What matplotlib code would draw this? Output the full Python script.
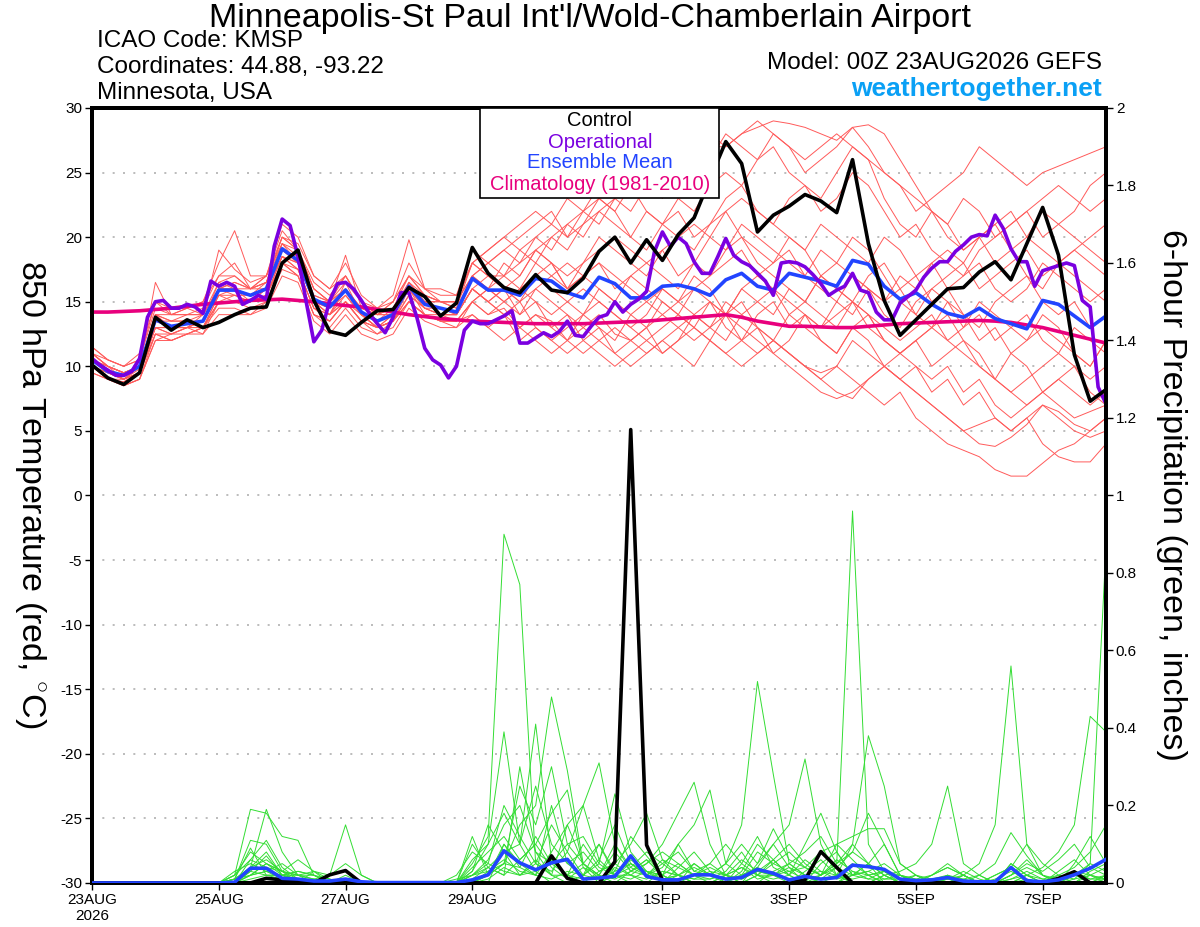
import numpy as np
import pandas as pd
import matplotlib
matplotlib.use("Agg")
import matplotlib.pyplot as plt
from matplotlib.ticker import FuncFormatter
from matplotlib.patches import Rectangle

plt.rcParams['font.family'] = ['Liberation Sans', 'DejaVu Sans']
plt.rcParams['axes.unicode_minus'] = False
plt.rcParams['mathtext.fontset'] = 'custom'
plt.rcParams['mathtext.rm'] = 'Liberation Sans'

# 6-hourly GEFS steps and 3-hourly operational steps
times6 = pd.date_range('2026-08-23 00:00', periods=65, freq='6h')
times3 = pd.date_range('2026-08-23 00:00', periods=129, freq='3h')

tick_dates = ['2026-08-23', '2026-08-25', '2026-08-27', '2026-08-29',
              '2026-09-01', '2026-09-03', '2026-09-05', '2026-09-07']
tick_labels = ['23AUG\n2026', '25AUG', '27AUG', '29AUG', '1SEP', '3SEP', '5SEP', '7SEP']

# 850 hPa temperature (C)
control_t = [10.1, 9.1, 8.6, 9.5, 13.8, 12.8, 13.6, 13.0, 13.4, 14.0, 14.5, 14.6, 18.0,
             19.0, 15.1, 12.7, 12.4, 13.4, 14.3, 14.4, 16.1, 15.4, 13.9, 14.9, 19.2, 17.2,
             16.1, 15.7, 17.1, 15.9, 15.7, 16.8, 18.9, 20.0, 18.0, 19.8, 18.2, 20.2, 21.5,
             24.5, 27.4, 25.7, 20.4, 21.7, 22.4, 23.3, 22.8, 21.9, 26.0, 19.5, 15.1, 12.4,
             13.6, 14.8, 16.0, 16.1, 17.3, 18.1, 16.7, 19.5, 22.3, 18.6, 10.9, 7.3, 8.2]

mean_t = [10.5, 9.6, 9.3, 10.0, 13.6, 13.1, 13.3, 13.5, 15.9, 15.9, 15.5, 16.0, 19.1,
          18.2, 15.2, 14.6, 15.9, 14.2, 13.5, 14.0, 16.2, 14.8, 14.5, 14.2, 16.8, 15.9,
          15.9, 15.5, 16.8, 16.6, 15.7, 15.3, 16.9, 16.4, 15.3, 15.3, 16.2, 16.3, 16.0,
          15.5, 16.7, 17.2, 16.2, 15.9, 17.2, 16.9, 16.6, 16.2, 18.2, 17.9, 16.2, 15.2,
          15.7, 14.8, 14.1, 13.8, 14.5, 13.7, 13.3, 12.9, 15.1, 14.8, 13.9, 13.0, 13.9]

clim_t = [14.2, 14.2, 14.25, 14.3, 14.4, 14.5, 14.65, 14.8, 14.9, 15.0, 15.1, 15.15, 15.2,
          15.1, 15.0, 14.85, 14.7, 14.6, 14.4, 14.2, 14.0, 13.85, 13.7, 13.6, 13.5, 13.45,
          13.4, 13.35, 13.3, 13.3, 13.3, 13.3, 13.35, 13.4, 13.45, 13.5, 13.6, 13.7, 13.8,
          13.9, 14.0, 13.8, 13.5, 13.3, 13.1, 13.1, 13.05, 13.0, 13.0, 13.1, 13.2, 13.3,
          13.35, 13.4, 13.45, 13.5, 13.55, 13.5, 13.4, 13.2, 13.0, 12.7, 12.4, 12.1, 11.8]

oper_t = [10.6, 10.1, 9.7, 9.3, 9.3, 9.6, 10.6, 13.8, 15.0, 15.1,
          14.5, 14.5, 14.8, 14.6, 14.1, 16.6, 16.2, 16.5, 16.2, 14.8,
          15.1, 15.5, 15.2, 19.3, 21.4, 20.9, 18.5, 15.1, 11.9, 12.8,
          15.1, 16.4, 16.5, 16.0, 15.1, 14.1, 13.3, 12.6, 13.8, 15.7,
          15.7, 13.8, 11.4, 10.5, 10.1, 9.1, 10.0, 12.8, 13.5, 13.3,
          13.3, 13.6, 13.9, 14.3, 11.8, 11.8, 12.2, 12.6, 12.3, 12.7,
          13.5, 12.4, 12.3, 13.1, 13.8, 14.0, 15.0, 14.2, 14.8, 15.2,
          15.8, 18.9, 20.4, 19.3, 20.0, 19.5, 18.1, 17.2, 17.2, 18.5,
          19.9, 18.6, 18.1, 17.8, 17.2, 16.6, 15.5, 18.0, 18.1, 18.0,
          17.7, 17.1, 16.4, 15.5, 15.9, 16.2, 17.2, 15.9, 15.7, 14.2,
          13.6, 13.6, 14.9, 15.4, 15.9, 16.9, 17.6, 18.1, 18.1, 18.9,
          19.4, 20.0, 20.2, 20.1, 21.7, 20.7, 19.1, 18.1, 18.1, 16.2,
          17.4, 17.6, 17.8, 18.0, 17.8, 15.1, 14.6, 8.4, 7.1]

members_t = [
    [11, 10, 9.5, 10, 14, 14, 14.5, 15, 17, 17, 16, 17, 20, 19.5, 17, 16, 17, 15, 14, 15, 17, 16, 16, 15.5,
     18, 17, 17, 18, 19, 20, 19, 21, 22, 23, 22, 24, 25, 24, 26, 27, 27, 28, 28.5, 29, 28.8, 28.5, 28, 27.5,
     28.5, 28.7, 28, 26, 24, 22, 20, 19, 20, 21, 22, 20, 19, 18, 19, 20, 21],
    [10, 9, 8.8, 9.5, 13, 12.5, 13, 13.5, 16, 16.5, 16, 17, 19.5, 19, 16, 15, 16.5, 15, 14, 14.5, 17, 15.5, 15, 15,
     17, 18, 19, 18, 20, 21, 20, 22, 23, 22, 24, 25, 23, 26, 27, 26, 28, 27, 26, 28, 27, 25, 26, 27,
     28.5, 27, 25, 24, 22, 23, 24, 25, 27, 26, 25, 24, 25, 25.5, 26, 26.5, 27],
    [10, 9, 8.5, 9, 12.5, 12, 12.5, 13, 15, 15, 14.5, 15, 18, 17, 14, 13.5, 15, 13.5, 13, 13.5, 15, 14, 13.5, 13,
     15, 14, 14.5, 13, 14, 13.5, 12, 13, 14, 12.5, 12, 13, 14, 13, 12, 13, 14, 12, 11, 12, 11, 10, 9, 10,
     9, 8, 7, 8, 6, 5, 4, 3.5, 3, 2, 1.5, 1.5, 2.5, 3.5, 4, 5, 6],
    [11, 10, 9.5, 10, 14, 13, 13, 14, 16, 16, 15, 16, 19, 18, 15, 14, 15, 14, 13, 14, 16, 14, 14, 14,
     16, 15, 16, 15, 17, 16, 15, 14, 16, 15, 14, 13, 15, 14, 13, 12, 14, 15, 13, 12, 14, 13, 12, 11,
     13, 12, 10, 9, 10, 8, 9, 7, 8, 6, 5, 6, 4, 3, 2.6, 2.6, 4],
    [10.5, 9.5, 9, 9.8, 13, 13, 13.5, 13, 15, 15.5, 15, 15.5, 18.5, 18, 15, 14, 16, 14, 13, 14, 16, 15, 14, 14,
     16, 15, 14, 13, 12, 11, 12, 11, 12, 13, 12, 11, 12, 13, 14, 13, 15, 14, 13, 12, 11, 10, 9.5, 10,
     12, 11, 10, 9, 8, 7, 6, 5, 5.5, 6, 5, 6, 7, 6.5, 5.5, 5, 6],
    [11.5, 10.5, 10, 10.5, 15, 14, 14, 14, 19, 17.5, 16.5, 17, 20.5, 19, 16, 15, 17, 15, 14, 15, 18, 16, 15, 15,
     18, 17, 16, 17, 19, 18, 17, 18, 20, 19, 18, 17, 19, 20, 21, 20, 22, 23, 22, 21, 23, 24, 22, 23,
     25, 24, 22, 20, 21, 19, 18, 17, 18, 16, 15, 16, 18, 17, 16, 15, 16],
    [9.5, 9, 8.5, 9, 12, 12.5, 12.5, 13, 14.5, 14.5, 14, 15, 17.5, 17, 14, 13, 14.5, 13, 12.5, 13, 15, 14, 13.5, 13.5,
     15, 16, 15, 16, 15, 14, 15, 16, 15, 14, 13, 14, 16, 15, 14, 15, 13, 12, 14, 15, 13, 14, 12, 11,
     13, 14, 12, 11, 12, 10, 11, 12, 10, 9, 11, 10, 8, 9, 10, 8, 7],
    [10, 9.5, 9, 10, 13.5, 13, 13, 13.5, 16.5, 16, 15.5, 16, 19, 18.5, 15.5, 15, 16, 14.5, 14, 14, 16.5, 15, 15, 14.5,
     17, 18, 17, 19, 20, 19, 21, 20, 22, 21, 20, 22, 21, 20, 19, 21, 22, 20, 19, 18, 20, 19, 17, 18,
     17, 16, 15, 16, 14, 13, 15, 14, 12, 13, 11, 12, 13, 12, 11, 10, 12],
    [10.5, 10, 9.5, 10, 14, 13.5, 14, 14.5, 17, 18, 16, 16.5, 19.5, 18, 15, 14.5, 16, 14, 13.5, 14.5, 16, 15, 14.5, 14,
     16, 15, 16, 14, 15, 13, 14, 12, 13, 11, 12, 13, 11, 12, 14, 13, 12, 14, 15, 16, 14, 15, 17, 16,
     15, 17, 18, 16, 17, 15, 16, 14, 13, 15, 16, 17, 15, 14, 15, 13, 14],
    [11, 10, 9, 9.5, 13.5, 13.5, 13.5, 13.5, 16, 15.5, 15.5, 16.5, 19, 18, 15, 14, 16.5, 14, 13, 13.5, 16, 14.5, 14, 14,
     17, 16, 15, 16, 17, 18, 16, 17, 18, 17, 16, 15, 14, 15, 16, 17, 18, 19, 17, 16, 15, 14, 13, 14,
     15, 13, 12, 11, 12, 13, 14, 12, 11, 9, 8, 7, 8, 9, 8, 7, 8],
    [10, 9, 9, 9.5, 12.5, 12.5, 13, 12.5, 15, 15, 15, 15.5, 18, 17.5, 14.5, 14, 15, 13.5, 13, 13.5, 15.5, 14.5, 14, 13.5,
     15, 14, 15, 14, 16, 15, 14, 13, 12, 11, 10, 11, 12, 11, 10, 12, 11, 12, 13, 11, 12, 14, 13, 15,
     14, 16, 15, 17, 16, 18, 19, 18, 20, 21, 19, 20, 22, 21, 20, 19, 18],
    [10.5, 9.5, 9, 10, 16.5, 14, 14, 14, 16, 16, 16, 16.5, 20, 19, 16.5, 15.5, 17, 15, 14.5, 15, 17, 15.5, 15, 15,
     18, 19, 20, 19, 18, 20, 21, 22, 21, 23, 24, 22, 21, 23, 22, 24, 25, 24, 26, 27, 25, 24, 23, 25,
     27, 26, 23, 21, 20, 22, 21, 19, 20, 18, 19, 17, 16, 18, 17, 16, 15],
    [9.5, 9, 8.8, 9.5, 12.5, 12, 12.5, 12.5, 14, 14, 14, 14.5, 17, 16.5, 13.5, 12.5, 14, 12.5, 12, 12.5, 14.5, 13.5, 13, 13,
     14, 13, 12, 13, 14, 13, 12, 14, 15, 14, 13, 12, 11, 12, 13, 12, 11, 10, 11, 12, 11, 10, 9, 8,
     7.5, 9, 10, 11, 12, 13, 12, 11, 10, 9, 8, 9, 10, 11, 10, 9, 10],
    [11, 10.5, 10, 10.5, 14.5, 14, 14.5, 14, 16.5, 17, 16, 16.5, 20, 19, 16, 15, 18.6, 14.5, 14, 14.5, 16.5, 15.5, 15, 15,
     17, 16, 18, 17, 19, 18, 16, 17, 18, 16, 17, 18, 19, 17, 18, 20, 19, 21, 20, 19, 18, 17, 19, 18,
     20, 19, 17, 15, 14, 16, 15, 13, 14, 12, 13, 14, 12, 11, 13, 12, 11],
    [10, 9.5, 9, 9.5, 13, 12.5, 13, 13, 15.5, 15.5, 15, 16, 18.5, 17.5, 14.5, 14, 15.5, 14, 13, 13.5, 15.5, 14.5, 14.5, 14,
     16, 17, 16, 15, 16, 17, 18, 17, 16, 15, 17, 16, 15, 14, 16, 15, 14, 16, 17, 18, 19, 17, 16, 15,
     17, 16, 14, 13, 15, 16, 17, 18, 16, 17, 18, 19, 17, 18, 19, 18, 17],
    [10.5, 10, 9.5, 10, 14, 13.5, 13.5, 14, 16, 16.5, 16, 16, 19.5, 18.5, 15.5, 15, 16, 14.5, 14, 14, 16.5, 15, 15, 14.5,
     18, 19, 20, 21, 22, 21, 23, 22, 24, 25, 26, 25, 27, 26, 27, 28, 27, 28, 29, 28, 27, 26, 27, 28,
     27, 26, 25, 24, 23, 22, 21, 23, 22, 20, 21, 22, 23, 24, 23, 22, 23],
    [11, 10, 9.5, 10, 13, 13, 13, 13.5, 15.5, 16, 15.5, 16, 18.5, 18, 15, 14.5, 15.5, 14, 13.5, 14, 16, 14.5, 14, 14,
     16, 15, 14, 15, 13, 12, 13, 14, 13, 12, 14, 15, 16, 15, 17, 16, 14, 13, 12, 11, 10, 9, 8, 7.5,
     8, 9, 10, 9, 8, 7, 6, 5, 4, 3.8, 4.5, 5.5, 7, 6, 5, 4.5, 5],
    [10, 9, 8.5, 9, 12, 12, 12.5, 13, 15, 15, 15, 15.5, 18.5, 17.5, 14.5, 13.5, 15, 13.5, 12.5, 13.5, 15, 14, 13.5, 13.5,
     15, 16, 17, 16, 18, 17, 16, 18, 19, 20, 19, 18, 17, 16, 18, 17, 19, 20, 18, 17, 16, 15, 17, 16,
     15, 14, 13, 12, 13, 14, 12, 13, 15, 14, 13, 12, 14, 13, 11, 10, 12],
    [11.5, 10.5, 10, 11, 15, 14.5, 14.5, 15, 18, 20.5, 17, 17, 21, 20, 17, 16, 18, 15.5, 14.5, 15.5, 19.8, 16, 15.5, 15.5,
     19, 18, 19, 20, 21, 22, 20, 21, 23, 22, 20, 19, 21, 22, 20, 21, 23, 24, 22, 21, 20, 19, 21, 20,
     19, 18, 20, 19, 17, 18, 16, 17, 19, 20, 21, 22, 20, 21, 22, 24, 25],
    [10, 9.5, 9, 9.5, 13, 13, 13, 13, 15.5, 15, 15, 15.5, 18, 17, 14, 13.5, 15, 13.5, 13, 13.5, 15, 14, 13.5, 13.5,
     14, 13, 14, 12, 13, 12, 11, 12, 11, 10, 11, 12, 13, 14, 13, 15, 14, 16, 15, 14, 16, 15, 14, 13,
     15, 14, 12, 11, 10, 9, 10, 8, 9, 7, 6, 7, 8, 7, 6, 6.5, 7],
]

# 6-hour precipitation (inches)
control_p = [0, 0, 0, 0, 0, 0, 0, 0, 0, 0, 0, 0.012, 0.008,
             0.003, 0, 0.021, 0.032, 0, 0, 0, 0, 0, 0, 0, 0, 0,
             0, 0, 0, 0.070, 0.012, 0, 0, 0.055, 1.17, 0.098, 0.008, 0, 0,
             0, 0, 0, 0, 0, 0, 0.008, 0.081, 0.040, 0, 0, 0, 0,
             0, 0, 0, 0, 0, 0, 0, 0, 0, 0.012, 0.029, 0, 0]

mean_p = [0, 0, 0, 0, 0, 0, 0, 0, 0, 0.002, 0.038, 0.038, 0.012,
          0.010, 0.005, 0.005, 0.010, 0.003, 0.001, 0.001, 0.001, 0.001, 0.001, 0.001, 0.008, 0.021,
          0.083, 0.052, 0.034, 0.052, 0.061, 0.010, 0.013, 0.017, 0.070, 0.017, 0.008, 0.008, 0.021,
          0.021, 0.010, 0.014, 0.035, 0.025, 0.008, 0.017, 0.010, 0.014, 0.046, 0.042, 0.035, 0.010,
          0.006, 0.008, 0.014, 0.005, 0.003, 0.003, 0.040, 0.006, 0.003, 0.008, 0.021, 0.038, 0.061]

members_p = [
    [0, 0, 0, 0, 0, 0, 0, 0, 0, 0.02, 0.19, 0.18, 0.12,
     0.11, 0.02, 0, 0, 0, 0, 0, 0, 0, 0, 0, 0.05, 0.12,
     0.9, 0.77, 0.05, 0.02, 0, 0, 0.03, 0.05, 0.02, 0, 0, 0.04, 0.08,
     0.03, 0, 0, 0.05, 0.1, 0.04, 0, 0, 0.02, 0.1, 0.05, 0, 0,
     0, 0, 0.02, 0, 0, 0, 0.05, 0.02, 0, 0, 0, 0.03, 0.05],
    [0, 0, 0, 0, 0, 0, 0, 0, 0, 0, 0.04, 0.19, 0.08,
     0.02, 0, 0, 0, 0, 0, 0, 0, 0, 0, 0, 0.03, 0.1,
     0.39, 0.1, 0.03, 0, 0, 0.02, 0.05, 0.02, 0, 0, 0.03, 0.02, 0,
     0, 0, 0.02, 0.08, 0.05, 0.03, 0.04, 0.02, 0.05, 0.96, 0.1, 0.03, 0,
     0.02, 0, 0, 0, 0, 0.02, 0.04, 0, 0, 0, 0, 0, 0.02],
    [0, 0, 0, 0, 0, 0, 0, 0, 0, 0.01, 0.11, 0.1, 0.03,
     0, 0, 0, 0, 0, 0, 0, 0, 0, 0, 0, 0.02, 0.04,
     0.08, 0.1, 0.41, 0.06, 0.02, 0, 0, 0.02, 0.05, 0.03, 0, 0.02, 0.05,
     0.02, 0.05, 0.15, 0.52, 0.28, 0.05, 0.02, 0, 0, 0.03, 0.02, 0, 0,
     0, 0.01, 0, 0, 0, 0, 0.02, 0.04, 0.02, 0, 0, 0, 0],
    [0, 0, 0, 0, 0, 0, 0, 0, 0, 0, 0.02, 0.05, 0.03,
     0.02, 0.03, 0.02, 0.15, 0.02, 0, 0, 0, 0, 0, 0, 0, 0.03,
     0.05, 0.15, 0.2, 0.48, 0.29, 0.05, 0.02, 0, 0.03, 0.06, 0.02, 0, 0,
     0, 0.02, 0.04, 0.02, 0, 0, 0.03, 0.06, 0.02, 0, 0, 0.02, 0,
     0, 0, 0, 0.02, 0.05, 0.15, 0.56, 0.1, 0.02, 0, 0, 0, 0.02],
    [0, 0, 0, 0, 0, 0, 0, 0, 0, 0.02, 0.08, 0.05, 0.02,
     0, 0.03, 0, 0, 0, 0, 0, 0, 0, 0, 0, 0.04, 0.08,
     0.12, 0.06, 0.1, 0.18, 0.24, 0.04, 0, 0.02, 0.04, 0.08, 0.05, 0.02, 0,
     0, 0, 0, 0.02, 0.05, 0.08, 0.04, 0.02, 0.05, 0.1, 0.38, 0.25, 0.05,
     0.02, 0, 0.01, 0, 0, 0, 0, 0.02, 0.04, 0.08, 0.15, 0.43, 0.39],
    [0, 0, 0, 0, 0, 0, 0, 0, 0, 0, 0.06, 0.11, 0.04,
     0.01, 0, 0, 0, 0, 0, 0, 0, 0, 0, 0, 0, 0.02,
     0.1, 0.04, 0.02, 0.08, 0.15, 0.2, 0.31, 0.1, 0.03, 0.05, 0.1, 0.18, 0.26,
     0.1, 0.02, 0, 0, 0.03, 0.05, 0.02, 0, 0, 0.02, 0.05, 0.1, 0.02,
     0, 0, 0, 0, 0, 0, 0, 0, 0, 0, 0.02, 0.05, 0.87],
    [0, 0, 0, 0, 0, 0, 0, 0, 0, 0, 0.03, 0.07, 0.02,
     0.03, 0.02, 0, 0.02, 0, 0, 0, 0, 0, 0, 0, 0.02, 0.06,
     0.15, 0.2, 0.08, 0.05, 0.1, 0.12, 0.05, 0.23, 0.08, 0.03, 0.02, 0.1, 0.15,
     0.24, 0.05, 0.02, 0.04, 0.1, 0.15, 0.32, 0.1, 0.02, 0, 0, 0.02, 0,
     0, 0, 0, 0, 0, 0, 0, 0, 0, 0, 0, 0, 0],
    [0, 0, 0, 0, 0, 0, 0, 0, 0, 0.01, 0.09, 0.02, 0.01,
     0, 0, 0, 0, 0, 0, 0, 0, 0, 0, 0, 0.06, 0.1,
     0.18, 0.1, 0.25, 0.1, 0.05, 0.08, 0.03, 0.05, 0.1, 0.18, 0.06, 0.02, 0,
     0, 0.02, 0.06, 0.03, 0.02, 0, 0, 0.02, 0.04, 0.08, 0.05, 0.02, 0.03,
     0.05, 0.1, 0.25, 0.05, 0.02, 0, 0.02, 0.05, 0.03, 0.06, 0.1, 0.04, 0.02],
    [0, 0, 0, 0, 0, 0, 0, 0, 0, 0, 0.04, 0.04, 0.03,
     0.01, 0, 0, 0, 0, 0, 0, 0, 0, 0, 0, 0, 0.02,
     0.05, 0.25, 0.15, 0.3, 0.1, 0.05, 0.02, 0.1, 0.04, 0.02, 0.05, 0.08, 0.03,
     0.02, 0.05, 0.1, 0.05, 0.14, 0.06, 0.04, 0.08, 0.1, 0.12, 0.14, 0.14, 0.05,
     0.02, 0, 0, 0, 0.02, 0.05, 0.13, 0.07, 0.02, 0, 0, 0, 0.01],
    [0, 0, 0, 0, 0, 0, 0, 0, 0, 0.03, 0.05, 0.03, 0.02,
     0.03, 0.02, 0.01, 0, 0, 0, 0, 0, 0, 0, 0.02, 0.08, 0.05,
     0.2, 0.12, 0.05, 0.15, 0.08, 0.2, 0.06, 0.02, 0.02, 0.05, 0.08, 0.05, 0.02,
     0.05, 0.1, 0.05, 0.02, 0.02, 0.05, 0.08, 0.12, 0.05, 0.08, 0.18, 0.1, 0.02,
     0, 0.02, 0.04, 0.02, 0, 0, 0, 0, 0, 0.03, 0.06, 0.02, 0],
    [0, 0, 0, 0, 0, 0, 0, 0, 0, 0.01, 0.04, 0.06, 0.03,
     0.02, 0.01, 0, 0.01, 0, 0, 0, 0, 0, 0, 0, 0.1, 0.04,
     0.02, 0.3, 0.08, 0.02, 0.15, 0.05, 0.1, 0.03, 0.12, 0.07, 0.02, 0.05, 0.02,
     0, 0, 0.03, 0.1, 0.06, 0.02, 0.1, 0.18, 0.08, 0.02, 0.03, 0.05, 0.02,
     0.01, 0.02, 0.04, 0.02, 0, 0, 0, 0.02, 0, 0, 0.05, 0.12, 0.05],
    [0, 0, 0, 0, 0, 0, 0, 0, 0, 0, 0.02, 0.03, 0.01,
     0, 0, 0, 0, 0, 0, 0, 0, 0, 0, 0, 0, 0,
     0.1, 0.05, 0.02, 0.2, 0.05, 0.02, 0.06, 0.15, 0.05, 0.02, 0.04, 0.1, 0.03,
     0.05, 0.02, 0, 0.02, 0.06, 0.1, 0.05, 0.02, 0.1, 0.06, 0.02, 0, 0,
     0, 0, 0, 0.02, 0, 0, 0.05, 0.02, 0, 0.02, 0.04, 0.08, 0.15],
    [0, 0, 0, 0, 0, 0, 0, 0, 0, 0.01, 0.02, 0.05, 0.03,
     0.06, 0.03, 0.01, 0, 0, 0, 0, 0, 0, 0, 0, 0.12, 0.02,
     0.05, 0.04, 0.12, 0.05, 0.02, 0.1, 0.04, 0.02, 0.06, 0.03, 0.02, 0, 0.05,
     0.02, 0, 0.05, 0.12, 0.04, 0.02, 0, 0.05, 0.08, 0.02, 0.05, 0.02, 0,
     0, 0.02, 0.05, 0.02, 0, 0.02, 0.04, 0.1, 0.05, 0.02, 0, 0.02, 0.04],
    [0, 0, 0, 0, 0, 0, 0, 0, 0, 0, 0.01, 0.02, 0.02,
     0.01, 0.01, 0, 0, 0, 0, 0, 0, 0, 0, 0, 0.03, 0.15,
     0.08, 0.02, 0.03, 0.06, 0.02, 0.01, 0.02, 0.08, 0.03, 0.02, 0.06, 0.04, 0.02,
     0.01, 0.03, 0.08, 0.02, 0.01, 0.02, 0.06, 0.03, 0.02, 0.01, 0.02, 0.03, 0.01,
     0, 0, 0.01, 0.03, 0.01, 0, 0.02, 0.06, 0.02, 0.01, 0.03, 0.02, 0.01],
    [0, 0, 0, 0, 0, 0, 0, 0, 0, 0.02, 0.06, 0.04, 0.01,
     0, 0, 0, 0, 0, 0, 0, 0, 0, 0, 0, 0.01, 0.04,
     0.02, 0.06, 0.1, 0.04, 0.01, 0.04, 0.02, 0.01, 0.03, 0.06, 0.02, 0, 0.02,
     0.04, 0.02, 0.01, 0.03, 0.06, 0.02, 0, 0.01, 0.04, 0.02, 0.01, 0.03, 0.02,
     0.01, 0, 0.02, 0.01, 0, 0.01, 0.03, 0.01, 0, 0.01, 0.03, 0.01, 0.02],
    [0, 0, 0, 0, 0, 0, 0, 0, 0, 0, 0.03, 0.02, 0.02,
     0.02, 0.01, 0.02, 0.05, 0.02, 0, 0, 0, 0, 0, 0, 0.02, 0.05,
     0.03, 0.02, 0.05, 0.03, 0.08, 0.02, 0.01, 0.03, 0.05, 0.02, 0.01, 0.02, 0.04,
     0.02, 0.01, 0.02, 0.04, 0.02, 0.03, 0.01, 0.02, 0.06, 0.03, 0.01, 0.01, 0.02,
     0, 0.01, 0.02, 0, 0, 0, 0.01, 0.02, 0.01, 0, 0.01, 0.02, 0.01],
    [0, 0, 0, 0, 0, 0, 0, 0, 0, 0.01, 0.04, 0.08, 0.02,
     0.01, 0, 0, 0, 0, 0, 0, 0, 0, 0, 0.01, 0.02, 0.03,
     0.06, 0.03, 0.02, 0.01, 0.03, 0.02, 0.1, 0.02, 0.01, 0.03, 0.01, 0.02, 0.01,
     0.03, 0.02, 0.04, 0.01, 0.02, 0.04, 0.02, 0.01, 0.02, 0.05, 0.02, 0.03, 0.01,
     0.02, 0.01, 0, 0.01, 0.02, 0, 0.01, 0.03, 0.01, 0.02, 0.01, 0.05, 0.03],
    [0, 0, 0, 0, 0, 0, 0, 0, 0, 0, 0.02, 0.03, 0.05,
     0.02, 0.02, 0, 0, 0, 0, 0, 0, 0, 0, 0, 0, 0.01,
     0.04, 0.02, 0.06, 0.02, 0.02, 0.05, 0.01, 0.04, 0.02, 0.01, 0.03, 0.02, 0.01,
     0.01, 0.02, 0.01, 0.03, 0.02, 0.01, 0.02, 0.03, 0.01, 0.02, 0.03, 0.01, 0.01,
     0, 0, 0.01, 0.02, 0, 0, 0, 0.01, 0, 0, 0.02, 0.01, 0.01],
]

fig = plt.figure(figsize=(12, 9.27), dpi=100)
ax = fig.add_axes([0.0767, 0.0475, 0.845, 0.836])
ax2 = ax.twinx()

# temperature
for m in members_t:
    ax.plot(times6, m, color='#ff5a5a', lw=0.7, zorder=2)
ax.plot(times6, clim_t, color='#e8007d', lw=2.6, zorder=3)
ax.plot(times6, mean_t, color='#2244ff', lw=2.6, zorder=4)
ax.plot(times3, oper_t, color='#7a00e0', lw=2.6, zorder=5)
ax.plot(times6, control_t, color='black', lw=2.6, zorder=6)

# precipitation
for m in members_p:
    ax2.plot(times6, m, color='#33dd33', lw=0.7, zorder=2)
ax2.plot(times6, control_p, color='black', lw=2.6, zorder=4)
ax2.plot(times6, mean_p, color='#2244ff', lw=2.6, zorder=5)

ax.set_xlim(times6[0], times6[-1])
ax.set_ylim(-30, 30)
ax2.set_ylim(0, 2)
ax.set_yticks(range(-30, 31, 5))
ax2.set_yticks(np.arange(0, 2.01, 0.2))
ax2.yaxis.set_major_formatter(FuncFormatter(lambda v, p: f"{v:g}"))
ax.set_xticks(pd.to_datetime(tick_dates))
ax.set_xticklabels(tick_labels)

for y in range(-25, 30, 5):
    ax.axhline(y, color='#b0b0b0', lw=1.2, ls=(0, (1.2, 5)), zorder=1)

for a in (ax, ax2):
    for s in a.spines.values():
        s.set_linewidth(2.8)
    a.tick_params(direction='out', length=5, width=1, labelsize=11, pad=2)

# legend box
fig.patches.append(Rectangle((480 / 1200, 1 - 198 / 927), 239 / 1200, 90 / 927,
                             transform=fig.transFigure, facecolor='white',
                             edgecolor='black', lw=1.2, zorder=10))
leg = [('Control', 'black', 121), ('Operational', '#7a00e0', 142),
       ('Ensemble Mean', '#2244ff', 163), ('Climatology (1981-2010)', '#e8007d', 185)]
for txt, col, yp in leg:
    fig.text(600 / 1200, 1 - yp / 927, txt, color=col, ha='center', va='center',
             fontsize=14.5, zorder=11)

fig.text(590 / 1200, 1 - 18 / 927, "Minneapolis-St Paul Int'l/Wold-Chamberlain Airport",
         ha='center', va='center', fontsize=24.5)
fig.text(97 / 1200, 1 - 41 / 927, "ICAO Code: KMSP", ha='left', va='center', fontsize=17.5)
fig.text(97 / 1200, 1 - 67 / 927, "Coordinates: 44.88, -93.22", ha='left', va='center', fontsize=17.5)
fig.text(97 / 1200, 1 - 93 / 927, "Minnesota, USA", ha='left', va='center', fontsize=17.5)
fig.text(1102 / 1200, 1 - 63 / 927, "Model: 00Z 23AUG2026 GEFS", ha='right', va='center', fontsize=17.5)
fig.text(1102 / 1200, 1 - 89 / 927, "weathertogether.net", ha='right', va='center',
         fontsize=19, fontweight='bold', color='#0aa0f5')

fig.text(30 / 1200, 1 - 494 / 927, "850 hPa Temperature (red, $^{\\circ}$C)", rotation=-90,
         ha='center', va='center', fontsize=24.5)
fig.text(1172 / 1200, 1 - 495 / 927, "6-hour Precipitation (green, inches)", rotation=-90,
         ha='center', va='center', fontsize=24.5)

fig.savefig('out.png', dpi=100)
